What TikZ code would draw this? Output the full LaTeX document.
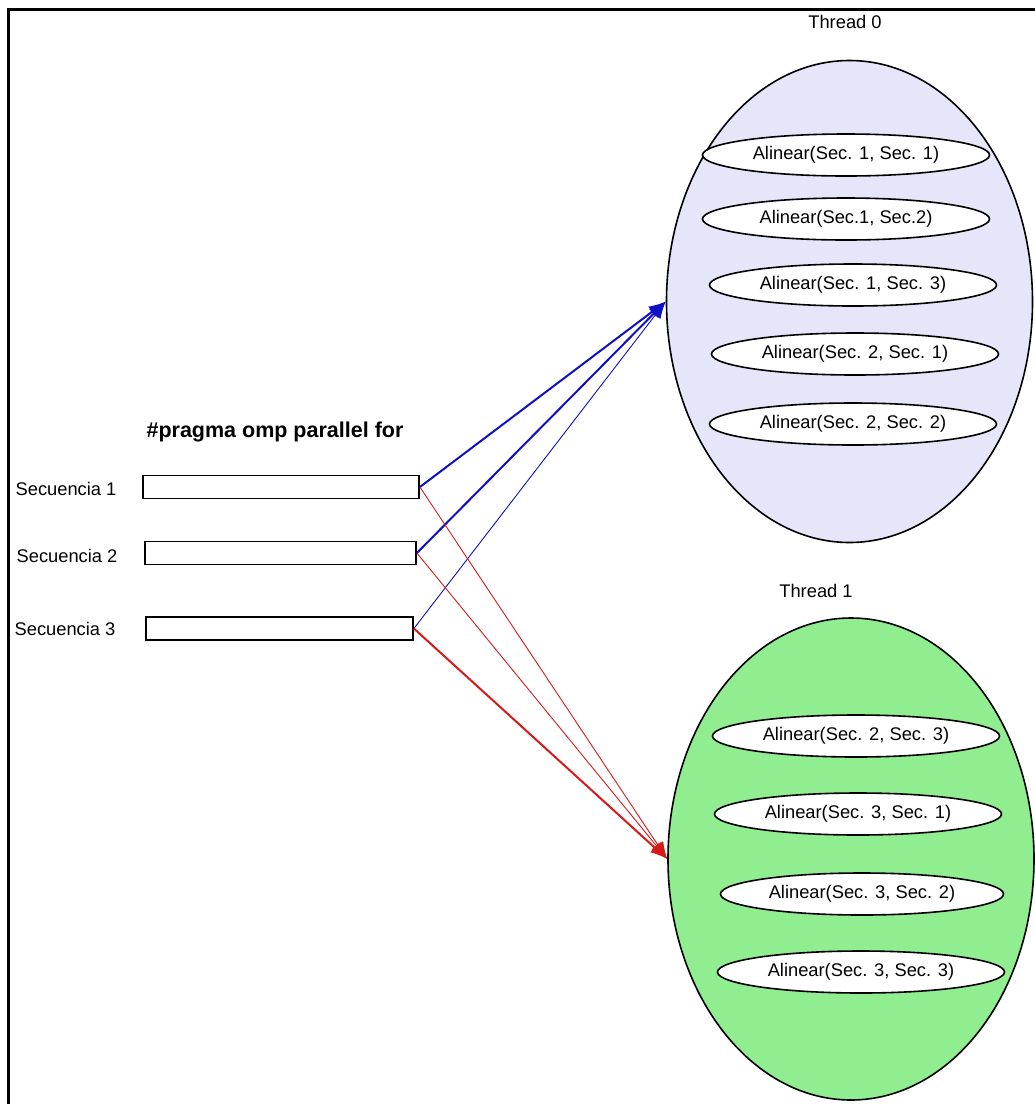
\documentclass[tikz,border=0pt]{standalone}
\usepackage{fontspec}
\setmainfont{Liberation Sans}
\usetikzlibrary{shapes.geometric,arrows.meta}
\definecolor{hiloazul}{RGB}{230,230,250}
\definecolor{hiloverde}{RGB}{144,238,144}
\definecolor{flechaazul}{RGB}{15,15,195}
\definecolor{flecharoja}{RGB}{215,25,25}
\begin{document}
\begin{tikzpicture}[x=1pt,y=-1pt,
  hilo/.style={ellipse,draw,line width=1.6pt,inner sep=0pt,minimum width=366pt,minimum height=482pt},
  tarea/.style={ellipse,draw,fill=white,line width=1.6pt,inner sep=0pt,minimum width=287pt,minimum height=42pt,font=\fontsize{18.3}{21}\selectfont},
  secuencia/.style={draw,line width=1.8pt,inner sep=0pt,minimum height=23pt},
  etiqueta/.style={font=\fontsize{18.3}{21}\selectfont},
  flecha/.style={-{Latex[length=17pt,width=13pt]}}]
\useasboundingbox (0,0) rectangle (1035,1104);
\draw[line width=3pt] (8.5,1104) -- (8.5,9.5) -- (1035,9.5);

% hilos
\node[hilo,fill=hiloazul] (hilo0) at (849.5,301.5) {};
\node[hilo,fill=hiloverde] (hilo1) at (851,859) {};
\node[etiqueta] (nombre0) at (845,22) {Thread 0};
\node[etiqueta] (nombre1) at (816,591) {Thread 1};

\node[tarea] (a11) at (846,155) {Alinear(Sec. 1, Sec. 1)};
\node[tarea] (a12) at (846,219) {Alinear(Sec.1, Sec.2)};
\node[tarea] (a13) at (853,285) {Alinear(Sec. 1, Sec. 3)};
\node[tarea] (a21) at (855,354) {Alinear(Sec. 2, Sec. 1)};
\node[tarea] (a22) at (853,424) {Alinear(Sec. 2, Sec. 2)};

\node[tarea] (a23) at (856,736) {Alinear(Sec. 2, Sec. 3)};
\node[tarea] (a31) at (858,814) {Alinear(Sec. 3, Sec. 1)};
\node[tarea,minimum width=283pt] (a32) at (862,894) {Alinear(Sec. 3, Sec. 2)};
\node[tarea] (a33) at (861,972) {Alinear(Sec. 3, Sec. 3)};

% secuencias
\node[font=\fontsize{21.5}{24}\selectfont\bfseries] (pragma) at (275,432) {\#pragma omp parallel for};
\node[secuencia,minimum width=276pt] (sec1) at (281,487) {};
\node[secuencia,minimum width=271pt] (sec2) at (280.5,553) {};
\node[secuencia,minimum width=267pt] (sec3) at (279.5,628.5) {};
\node[etiqueta] (nsec1) at (66,489) {Secuencia 1};
\node[etiqueta] (nsec2) at (67,556) {Secuencia 2};
\node[etiqueta] (nsec3) at (65,629) {Secuencia 3};

\draw[flecha,flechaazul,line width=2pt] (sec1.east) -- (hilo0.west);
\draw[flecha,flechaazul,line width=2pt] (sec2.east) -- (hilo0.west);
\draw[flecha,flechaazul,line width=0.9pt] (sec3.east) -- (hilo0.west);

\draw[flecha,flecharoja,line width=0.9pt] (sec1.east) -- (hilo1.west);
\draw[flecha,flecharoja,line width=0.9pt] (sec2.east) -- (hilo1.west);
\draw[flecha,flecharoja,line width=2pt] (sec3.east) -- (hilo1.west);
\end{tikzpicture}
\end{document}
